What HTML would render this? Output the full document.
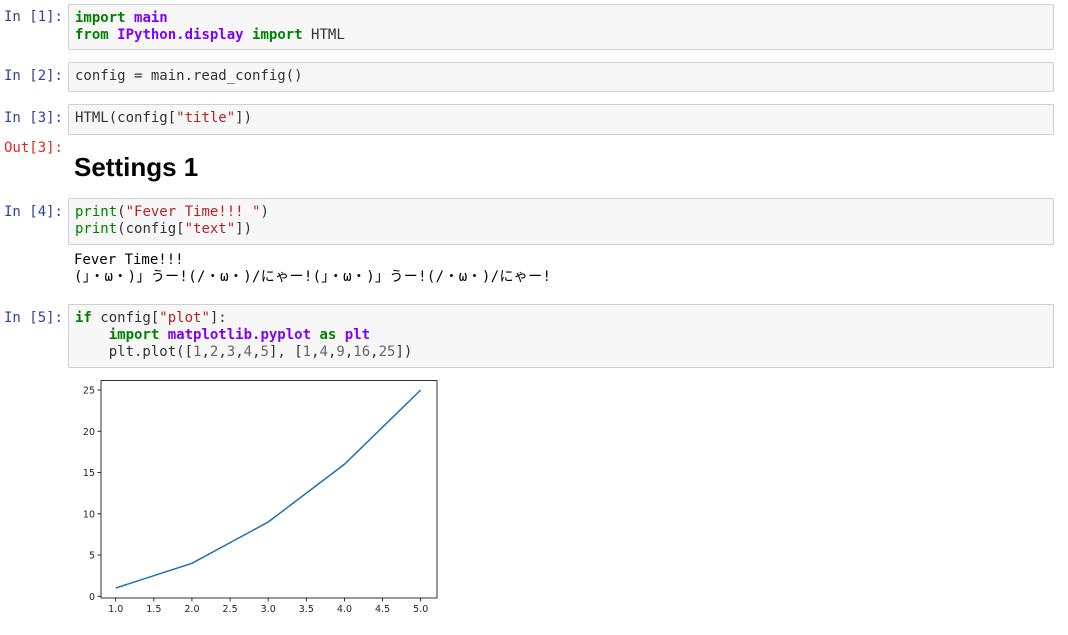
<!DOCTYPE html>
<html><head><meta charset="utf-8">
<style>
body{margin:0;width:1068px;height:635px;background:#fff;position:relative;overflow:hidden;font-family:"DejaVu Sans Mono","Liberation Mono","Noto Sans CJK JP",monospace;font-size:14px;}
.p{position:absolute;left:0;width:63px;text-align:right;color:#303f9f;line-height:17px;}
.o{color:#e5261a;}
.c{position:absolute;left:68px;width:986px;background:#f7f7f7;border:1px solid #cfcfcf;border-radius:2px;box-sizing:border-box;padding:5px 6px;line-height:17px;white-space:pre;color:#333;}
.k{color:#008000;font-weight:bold}.m{color:#7f00ff;font-weight:bold}
.s{color:#ba2121}.b{color:#008000}.d{color:#666}
.out{position:absolute;left:74px;line-height:17px;white-space:pre;color:#000;font-family:"DejaVu Sans Mono","Noto Sans CJK JP",monospace;}
</style></head><body>
<div class="p" style="top:9px">In [1]:</div>
<div class="c" style="top:4px;height:46px"><span class="k">import</span> <span class="m">main</span>
<span class="k">from</span> <span class="m">IPython.display</span> <span class="k">import</span> HTML</div>
<div class="p" style="top:68px">In [2]:</div>
<div class="c" style="top:62px;height:30px">config = main.read_config()</div>
<div class="p" style="top:110px">In [3]:</div>
<div class="c" style="top:104px;height:31px">HTML(config[<span class="s">"title"</span>])</div>
<div class="p o" style="top:140px">Out[3]:</div>
<div style="position:absolute;left:74px;top:152px;font:bold 26px 'Liberation Sans',sans-serif;color:#000">Settings 1</div>
<div class="p" style="top:204px">In [4]:</div>
<div class="c" style="top:198px;height:47px"><span class="b">print</span>(<span class="s">"Fever Time!!! "</span>)
<span class="b">print</span>(config[<span class="s">"text"</span>])</div>
<div class="out" style="top:252px">Fever Time!!!
<span style="letter-spacing:0.35px">(」・ω・)」うー!(/・ω・)/にゃー!(」・ω・)」うー!(/・ω・)/にゃー!</span></div>
<div class="p" style="top:310px">In [5]:</div>
<div class="c" style="top:304px;height:64px"><span class="k">if</span> config[<span class="s">"plot"</span>]:
    <span class="k">import</span> <span class="m">matplotlib.pyplot</span> <span class="k">as</span> <span class="m">plt</span>
    plt.plot([<span class="d">1</span>,<span class="d">2</span>,<span class="d">3</span>,<span class="d">4</span>,<span class="d">5</span>], [<span class="d">1</span>,<span class="d">4</span>,<span class="d">9</span>,<span class="d">16</span>,<span class="d">25</span>])</div>
<svg id="chart" style="position:absolute;left:0;top:0" width="1068" height="635"></svg>
<script>
const xs=[1,2,3,4,5];
const ys=[1,4,9,16,25];
const xTicks=[1.0,1.5,2.0,2.5,3.0,3.5,4.0,4.5,5.0];
const yTicks=[0,5,10,15,20,25];
const NS="http://www.w3.org/2000/svg";
const svg=document.getElementById('chart');
function X(v){return 115.7+(v-1)*(420.7-115.7)/4;}
function Y(v){return 596.3-v*(596.3-390)/25;}
function mk(t,a){const e=document.createElementNS(NS,t);for(const k in a)e.setAttribute(k,a[k]);svg.appendChild(e);return e;}
let r=mk('rect',{x:101,y:380.5,width:336,height:217.5,fill:'#fff',stroke:'#000','stroke-width':0.8});


xTicks.forEach(v=>{
  let l=mk('line',{x1:X(v),x2:X(v),y1:598,y2:601.5,stroke:'#000','stroke-width':0.8});
  
  
  let t=mk('text',{x:X(v),y:612,'text-anchor':'middle','font-size':9.5,'font-family':'DejaVu Sans, sans-serif',fill:'#222'});
  t.textContent=v.toFixed(1);
  
  
});
yTicks.forEach(v=>{
  let l=mk('line',{x1:97.5,x2:101,y1:Y(v),y2:Y(v),stroke:'#000','stroke-width':0.8});
  
  
  let t=mk('text',{x:95,y:Y(v)+3.5,'text-anchor':'end','font-size':9.5,'font-family':'DejaVu Sans, sans-serif',fill:'#222'});
  t.textContent=String(v);
  
  
});
let p=mk('polyline',{points:xs.map((x,i)=>X(x)+','+Y(ys[i])).join(' '),fill:'none',stroke:'#1f6fb4','stroke-width':1.5});


</script>
</body></html>
